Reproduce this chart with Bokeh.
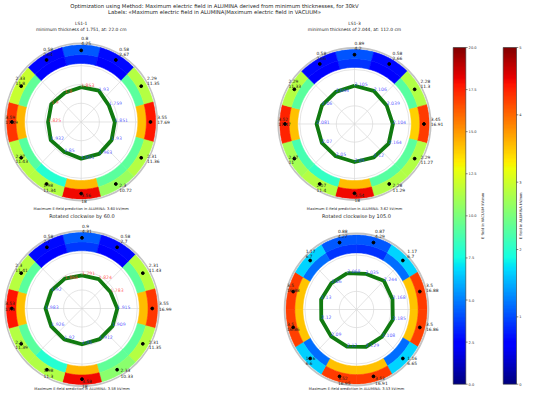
import numpy as np
from bokeh.plotting import figure
from bokeh.models import Range1d, LinearColorMapper, ColumnDataSource
from bokeh.core.properties import value
from bokeh.embed import file_html
from bokeh.resources import INLINE

# ---------------- data ----------------
suptitle_lines = [
    "Optimization using Method: Maximum electric field in ALUMINA derived from minimum thicknesses, for 30kV",
    "Labels: «Maximum electric field in ALUMINA|Maximum electric field in VACUUM»",
]
panel_titles = [
    ["LS1-1", "minimum thickness of 1.751, at: 22.0 cm"],
    ["LS1-3", "minimum thickness of 2.044, at: 112.0 cm"],
    ["Rotated clockwise by 60.0"],
    ["Rotated clockwise by 105.0"],
]
panel_footers = [
    "Maximum E-field prediction in ALUMINA: 3.60 kV/mm",
    "Maximum E-field prediction in ALUMINA: 3.62 kV/mm",
    "Maximum E-field prediction in ALUMINA: 3.58 kV/mm",
    "Maximum E-field prediction in ALUMINA: 3.53 kV/mm",
]

angles_a = [90, 60, 30, 0, -30, -60, -90, -120, -150, 180, 150, 120]
angles_b = [105, 75, 45, 15, -15, -45, -75, -105, -135, -165, 165, 135]

p1_alumina = [0.80, 0.58, 2.29, 3.55, 2.31, 2.30, 3.56, 1.98, 2.27, 3.59, 2.33, 0.58]
p1_vacuum = [4.25, 2.67, 11.35, 17.69, 11.36, 10.72, 18.00, 11.34, 11.43, 17.09, 11.80, 2.64]
p1_thick = [1.853, 1.93, 1.759, 1.851, 1.93, 1.963, 1.951, 1.85, 1.932, 1.825, 1.90, 1.800]
p1_thick_red = [True, False, False, False, False, False, False, False, False, True, True, True]

p2_alumina = [0.89, 0.58, 2.28, 3.45, 2.29, 2.28, 3.54, 2.07, 2.17, 3.52, 2.29, 0.58]
p2_vacuum = [4.20, 2.66, 11.30, 16.91, 11.27, 11.29, 18.00, 11.40, 11.00, 17.47, 11.33, 2.66]
p2_thick = [2.105, 2.106, 2.039, 2.104, 2.164, 2.12, 2.09, 2.05, 2.07, 2.081, 2.06, 2.044]
p2_thick_red = [False] * 12

p3_alumina = [0.90, 0.58, 2.31, 3.55, 2.31, 2.33, 3.58, 1.98, 2.30, 3.53, 2.30, 0.58]
p3_vacuum = [4.31, 2.70, 11.43, 16.99, 11.35, 10.33, 18.00, 11.30, 11.39, 17.80, 11.41, 2.70]
p3_thick = [1.791, 1.824, 1.783, 1.915, 1.909, 1.912, 1.93, 1.92, 1.926, 1.983, 1.92, 1.866]
p3_thick_red = [True, True, True, False, False, False, False, False, False, False, False, True]

p4_alumina = [0.88, 0.87, 1.17, 3.50, 3.50, 1.16, 3.53, 3.52, 1.16, 3.50, 3.50, 1.17]
p4_vacuum = [4.27, 4.29, 6.70, 16.88, 16.86, 6.65, 16.91, 16.95, 6.60, 16.86, 16.88, 6.70]
p4_thick = [2.068, 2.035, 2.244, 2.168, 2.185, 2.108, 2.129, 2.12, 2.09, 2.12, 2.13, 2.06]
p4_thick_red = [False] * 12

grid_r = [1.0, 2.0, 3.0]
grid_theta = [0, 45, 90, 135, 180, 225, 270, 315]

cb_vac_ticks = [0.0, 2.5, 5.0, 7.5, 10.0, 12.5, 15.0, 17.5, 20.0]
cb_al_ticks = [0, 1, 2, 3, 4, 5]
cb_vac_label = "E field in VACUUM kV/mm"
cb_al_label = "E field in ALUMINA kV/mm"

# ---------------- layout / style ----------------
W, H = 523, 390
FONT = value("DejaVu Sans")
R_OUT = 4.1
R_MID = 0.875 * R_OUT
R_IN = 0.76 * R_OUT


def X(px):
    return px - 8


def Y(py):
    return 398 - py


def jet(n=256):
    t = np.linspace(0, 1, n)
    r = np.interp(t, [0, 0.35, 0.66, 0.89, 1], [0, 0, 1, 1, 0.5])
    g = np.interp(t, [0, 0.125, 0.375, 0.64, 0.91, 1], [0, 0, 1, 1, 0, 0])
    b = np.interp(t, [0, 0.11, 0.34, 0.65, 1], [0.5, 1, 1, 0, 0])
    return ["#%02x%02x%02x" % (int(round(255 * a)), int(round(255 * c)), int(round(255 * d)))
            for a, c, d in zip(r, g, b)]


JET = jet()
map_vac = LinearColorMapper(palette=JET, low=0, high=20)
map_al = LinearColorMapper(palette=JET, low=0, high=5)

panels = [
    dict(c=(88.7, 129.5), rx=74.5, ry=77.0, ang=angles_a, al=p1_alumina, vac=p1_vacuum,
         th=p1_thick, red=p1_thick_red, title_y=(31, 37), foot_y=216.5),
    dict(c=(362.0, 131.5), rx=74.7, ry=74.5, ang=angles_a, al=p2_alumina, vac=p2_vacuum,
         th=p2_thick, red=p2_thick_red, title_y=(31, 37), foot_y=216.5),
    dict(c=(89.5, 316.0), rx=75.5, ry=76.0, ang=angles_a, al=p3_alumina, vac=p3_vacuum,
         th=p3_thick, red=p3_thick_red, title_y=(223.5,), foot_y=396.0),
    dict(c=(364.0, 317.0), rx=70.5, ry=74.5, ang=angles_b, al=p4_alumina, vac=p4_vacuum,
         th=p4_thick, red=p4_thick_red, title_y=(223.5,), foot_y=396.0),
]

p = figure(width=W, height=H, x_range=Range1d(0, W), y_range=Range1d(0, H),
           output_backend="svg", toolbar_location=None, min_border=0,
           x_axis_type=None, y_axis_type=None)
p.outline_line_color = None
p.background_fill_color = "white"
p.border_fill_color = "white"


def pol(cx, cy, rx, ry, r, th_deg):
    t = np.deg2rad(np.asarray(th_deg, dtype=float))
    r = np.asarray(r, dtype=float)
    return cx + rx * r / R_OUT * np.cos(t), cy + ry * r / R_OUT * np.sin(t)


for k, P in enumerate(panels):
    cx, cy = X(P["c"][0]), Y(P["c"][1])
    rx, ry = P["rx"], P["ry"]

    # grid circles and spokes
    p.ellipse(x=[cx] * len(grid_r), y=[cy] * len(grid_r),
              width=[2 * rx * g / R_OUT for g in grid_r],
              height=[2 * ry * g / R_OUT for g in grid_r],
              fill_color=None, line_color="#d9d9d9", line_width=0.7)
    x1, y1 = pol(cx, cy, rx, ry, [R_IN] * len(grid_theta), grid_theta)
    p.segment(x0=[cx] * len(grid_theta), y0=[cy] * len(grid_theta), x1=x1, y1=y1,
              line_color="#d9d9d9", line_width=0.7)

    # ring segments
    xs_in, ys_in, xs_out, ys_out = [], [], [], []
    for a in P["ang"]:
        t = np.linspace(a - 15, a + 15, 24)
        for r0, r1, XS, YS in ((R_IN, R_MID, xs_in, ys_in), (R_MID, R_OUT, xs_out, ys_out)):
            xa, ya = pol(cx, cy, rx, ry, [r1] * len(t), t)
            xb, yb = pol(cx, cy, rx, ry, [r0] * len(t), t[::-1])
            XS.append(list(np.concatenate([xa, xb])))
            YS.append(list(np.concatenate([ya, yb])))
    src_in = ColumnDataSource(dict(xs=xs_in, ys=ys_in, v=P["al"]))
    src_out = ColumnDataSource(dict(xs=xs_out, ys=ys_out, v=P["vac"]))
    p.patches("xs", "ys", source=src_in, fill_color={"field": "v", "transform": map_al},
              line_color={"field": "v", "transform": map_al}, line_width=0.6)
    p.patches("xs", "ys", source=src_out, fill_color={"field": "v", "transform": map_vac},
              line_color={"field": "v", "transform": map_vac}, line_width=0.6)

    # frame
    p.ellipse(x=[cx], y=[cy], width=[2 * rx * 1.02], height=[2 * ry * 1.02],
              fill_color=None, line_color="#c4c4c4", line_width=1.8)

    # thickness polygon
    ang_closed = list(P["ang"]) + [P["ang"][0]]
    th_closed = list(P["th"]) + [P["th"][0]]
    px_, py_ = pol(cx, cy, rx, ry, th_closed, ang_closed)
    p.line(px_, py_, line_color="#107a10", line_width=3.8, line_join="round")

    # thickness labels
    tx, ty = pol(cx, cy, rx, ry, P["th"], P["ang"])
    p.text(x=tx, y=ty, text=["%g" % v for v in P["th"]],
           text_color=["#ff4040" if r else "#4040ff" for r in P["red"]],
           text_font=FONT, text_font_size="4.6px", text_align="left",
           text_baseline="bottom", text_alpha=0.85)

    # max markers
    mx, my = pol(cx, cy, rx, ry, [0.93 * R_OUT] * 12, P["ang"])
    p.scatter(mx, my, size=2.8, color="black")

    # ring labels (two lines, last line's baseline on the anchor)
    lx, ly = pol(cx, cy, rx, ry, [1.02 * R_OUT] * 12, P["ang"])
    p.text(x=lx, y=ly, text=["%g" % v for v in P["al"]], text_font=FONT,
           text_font_size="4.4px", text_align="left", text_baseline="alphabetic",
           text_color="#222222", y_offset=-5.2)
    p.text(x=lx, y=ly, text=["%g" % v for v in P["vac"]], text_font=FONT,
           text_font_size="4.4px", text_align="left", text_baseline="alphabetic",
           text_color="#222222")

    # titles
    tlines = panel_titles[k]
    fs = "4.4px" if len(tlines) == 2 else "5px"
    p.text(x=[cx] * len(tlines), y=[Y(v) for v in P["title_y"]], text=tlines,
           text_font=FONT, text_font_size=fs, text_align="center",
           text_baseline="middle", text_color="#222222")
    p.text(x=[cx], y=[Y(P["foot_y"])], text=[panel_footers[k]], text_font=FONT,
           text_font_size="3.6px", text_align="center", text_baseline="middle",
           text_color="#222222")

# suptitle
p.text(x=[X(222), X(222)], y=[Y(13), Y(19.5)], text=suptitle_lines, text_font=FONT,
       text_font_size="5.3px", text_align="center", text_baseline="middle",
       text_color="#222222")

# colorbars
CB_TOP, CB_BOT = 55.0, 391.7
for left, right, mapper, hi, ticks, label, lab_x in (
        (460.7, 473.3, map_vac, 20.0, cb_vac_ticks, cb_vac_label, 490.0),
        (510.7, 524.0, map_al, 5.0, cb_al_ticks, cb_al_label, 528.2)):
    grad = np.linspace(0, hi, 256).reshape(256, 1)
    p.image(image=[grad], x=X(left), y=Y(CB_BOT), dw=right - left, dh=CB_BOT - CB_TOP,
            color_mapper=mapper)
    p.quad(left=[X(left)], right=[X(right)], bottom=[Y(CB_BOT)], top=[Y(CB_TOP)],
           fill_color=None, line_color="#333333", line_width=0.6)
    ty = [Y(CB_BOT) + v / hi * (CB_BOT - CB_TOP) for v in ticks]
    p.segment(x0=[X(right)] * len(ticks), y0=ty, x1=[X(right) + 1.8] * len(ticks), y1=ty,
              line_color="#333333", line_width=0.6)
    labels = ["%.1f" % v for v in ticks] if hi == 20.0 else ["%d" % v for v in ticks]
    p.text(x=[X(right) + 2.8] * len(ticks), y=ty, text=labels, text_font=FONT,
           text_font_size="3.6px", text_align="left", text_baseline="middle",
           text_color="#333333")
    p.text(x=[X(lab_x)], y=[Y((CB_TOP + CB_BOT) / 2)], text=[label], text_font=FONT,
           text_font_size="3.6px", text_align="center", text_baseline="middle",
           angle=np.pi / 2, text_color="#333333")

open("out.html", "w").write(file_html(p, INLINE))
